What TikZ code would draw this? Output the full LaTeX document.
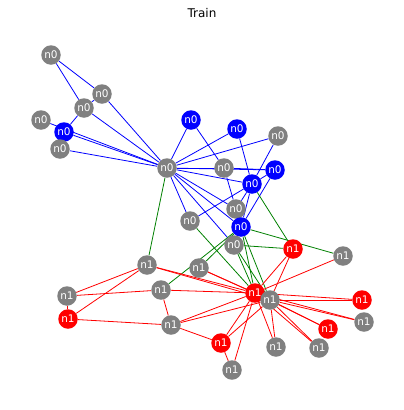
\documentclass[tikz,border=0pt]{standalone}
\usepackage{fontspec}
\setmainfont{DejaVu Sans}
\usepackage{tikz}
\usepackage{xcolor}
\usetikzlibrary{backgrounds}

\definecolor{ngray}{RGB}{128,128,128}
\definecolor{nblue}{RGB}{0,0,255}
\definecolor{nred}{RGB}{255,0,0}
\definecolor{ngreen}{RGB}{0,128,0}

\begin{document}
\begin{tikzpicture}[x=1pt, y=-1pt,
    vert/.style={circle, minimum size=19.5pt, inner sep=0pt, text=white,
      font=\fontsize{10.5}{10.5}\selectfont},
    gnode/.style={vert, fill=ngray},
    bnode/.style={vert, fill=nblue},
    rnode/.style={vert, fill=nred},
    bedge/.style={nblue, line width=0.8pt},
    gedge/.style={ngreen, line width=0.8pt},
    redge/.style={nred, line width=0.8pt}]
  \useasboundingbox (0,0) rectangle (404,410);

  % Title
  \node[font=\fontsize{12}{12}\selectfont] (title) at (202,13) {Train};

  % Class n0
  \node[gnode] (u1) at (51,55) {n0};
  \node[gnode] (u2) at (102,94) {n0};
  \node[gnode] (u3) at (84,108) {n0};
  \node[gnode] (u4) at (41,120) {n0};
  \node[bnode] (u5) at (64,132) {n0};
  \node[gnode] (u6) at (60,149) {n0};
  \node[gnode] (u7) at (167,168) {n0};
  \node[bnode] (u8) at (191,120) {n0};
  \node[bnode] (u9) at (237,129) {n0};
  \node[gnode] (u10) at (278,136) {n0};
  \node[gnode] (u11) at (224,168) {n0};
  \node[bnode] (u12) at (275,170) {n0};
  \node[bnode] (u13) at (252,184) {n0};
  \node[gnode] (u14) at (190,221) {n0};
  \node[gnode] (u15) at (236,209) {n0};
  \node[bnode] (u16) at (241,227) {n0};
  \node[gnode] (u17) at (234,245) {n0};

  % Class n1
  \node[rnode] (v1) at (293,249) {n1};
  \node[gnode] (v2) at (343,256) {n1};
  \node[gnode] (v3) at (147,265) {n1};
  \node[gnode] (v4) at (199,268) {n1};
  \node[gnode] (v5) at (161,290) {n1};
  \node[gnode] (v6) at (67,296) {n1};
  \node[rnode] (v7) at (68,319) {n1};
  \node[rnode] (v8) at (255,293) {n1};
  \node[gnode] (v9) at (270,300) {n1};
  \node[rnode] (v10) at (362,300) {n1};
  \node[gnode] (v11) at (364,322) {n1};
  \node[rnode] (v12) at (328,329) {n1};
  \node[gnode] (v13) at (171,325) {n1};
  \node[rnode] (v14) at (221,343) {n1};
  \node[gnode] (v15) at (276,347) {n1};
  \node[gnode] (v16) at (319,348) {n1};
  \node[gnode] (v17) at (232,370) {n1};

  \begin{scope}[on background layer]
    % Edges inside n0
    \foreach \a/\b in {u1/u2, u1/u3, u2/u3, u2/u7, u3/u5, u3/u7, u4/u7,
        u5/u7, u6/u7, u7/u8, u7/u9, u7/u10, u7/u11, u7/u12, u7/u13,
        u7/u14, u7/u15, u7/u16, u7/u17, u8/u11, u9/u13, u10/u13,
        u11/u12, u11/u15, u12/u13, u12/u16, u13/u14, u13/u15, u13/u16,
        u15/u16}
      \draw[bedge] (\a) -- (\b);

    % Edges between n0 and n1
    \foreach \a/\b in {u7/v3, u14/v8, u13/v1, u16/v2, u17/v1, u16/v5,
        u16/v4, u16/v8, u16/v9, u17/v8, u17/v9}
      \draw[gedge] (\a) -- (\b);

    % Edges inside n1
    \foreach \a/\b in {v3/v6, v3/v7, v6/v5, v6/v7, v7/v13, v5/v13,
        v5/v8, v3/v8, v3/v9, v4/v8, v4/v9, v13/v8, v13/v9, v13/v14,
        v14/v8, v14/v9, v14/v17, v17/v8, v15/v8, v15/v9, v16/v8, v16/v9,
        v12/v8, v12/v9, v11/v8, v11/v9, v10/v8, v10/v9, v1/v8, v1/v9,
        v2/v8, v8/v9}
      \draw[redge] (\a) -- (\b);
  \end{scope}
\end{tikzpicture}
\end{document}
